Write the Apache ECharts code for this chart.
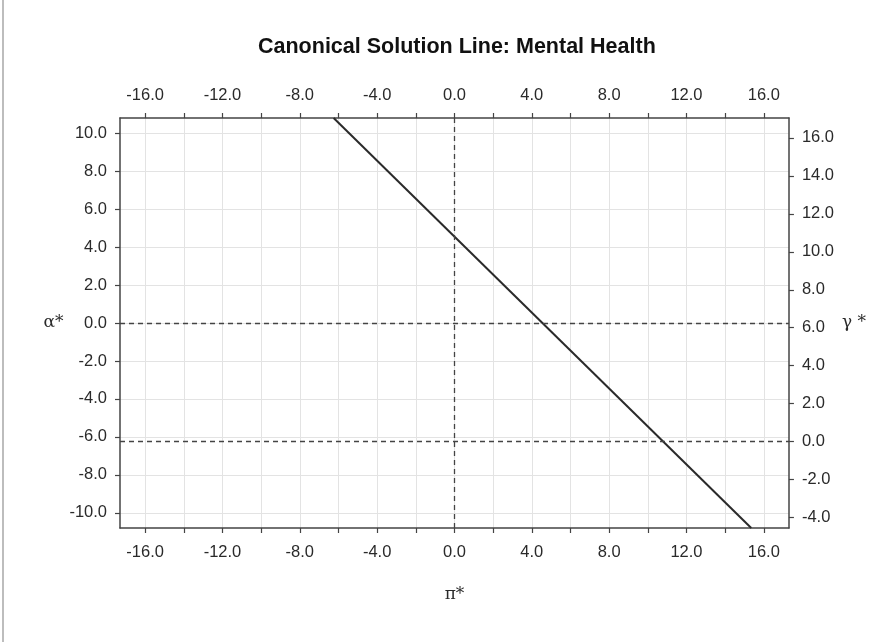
<!DOCTYPE html>
<html>
<head>
<meta charset="utf-8">
<script src="https://cdn.jsdelivr.net/npm/echarts@6/dist/echarts.min.js"></script>
<style>
html,body{margin:0;padding:0;background:#fff;overflow:hidden;}
#chart{width:869px;height:642px;}
</style>
</head>
<body>
<div id="chart"></div>
<script>
// Data
var piLine = [-6.25, 15.35];        // π* at the two ends of the solution line
var alphaLine = [10.8, -10.8];      // α* at the two ends
var xTicks = [-16,-14,-12,-10,-8,-6,-4,-2,0,2,4,6,8,10,12,14,16];
var xLabels = [-16,-12,-8,-4,0,4,8,12,16];
var alphaTicks = [-10,-8,-6,-4,-2,0,2,4,6,8,10];
var gammaTicks = [-4,-2,0,2,4,6,8,10,12,14,16];
var gammaOffset = 6.25;             // γ* = α* + offset
var refPi = [0];                    // vertical dashed line
var refAlpha = [0, -gammaOffset];   // horizontal dashed lines (α*=0, γ*=0)

var xMin = -17.3, xMax = 17.3, yMin = -10.8, yMax = 10.8;
var axisColor = '#444', textColor = '#2a2a2a';
var fmt = function (v) { return Number(v).toFixed(1); };
var lblFont = { fontFamily: 'Liberation Sans, Arial, sans-serif', fontSize: 16.5, color: textColor };

function xAxisDef(pos) {
  return {
    type: 'value', position: pos, min: xMin, max: xMax,
    axisLine: { show: true, onZero: false, lineStyle: { color: axisColor, width: 1.5 } },
    axisTick: { show: true, inside: false, length: 5, customValues: xTicks, lineStyle: { color: axisColor, width: 1.2 } },
    axisLabel: Object.assign({ customValues: xLabels, formatter: fmt, margin: pos === 'top' ? 14 : 16, showMinLabel: true, showMaxLabel: true }, lblFont),
    splitLine: { show: pos === 'bottom', lineStyle: { color: '#e3e3e3', width: 1 } }
  };
}

var pts = piLine.map(function (p, i) { return [p, alphaLine[i]]; });

var markData = refPi.map(function (v) { return { xAxis: v }; })
  .concat(refAlpha.map(function (v) { return { yAxis: v }; }));

var option = {
  backgroundColor: '#fff',
  animation: false,
  title: {
    text: 'Canonical Solution Line: Mental Health',
    left: 253, top: 31,
    textStyle: { fontFamily: 'Liberation Sans, Arial, sans-serif', fontWeight: 'bold', fontSize: 21.5, color: '#111' }
  },
  grid: { left: 120, top: 118, width: 675, height: 410, containLabel: false },
  xAxis: [
    Object.assign(xAxisDef('bottom'), {
      name: 'π*', nameLocation: 'middle', nameGap: 58,
      nameTextStyle: { fontFamily: 'DejaVu Serif, serif', fontSize: 17, color: textColor }
    }),
    xAxisDef('top')
  ],
  yAxis: [
    {
      type: 'value', position: 'left', min: yMin, max: yMax,
      name: 'α*', nameLocation: 'middle', nameRotate: 0, nameGap: 49,
      nameTextStyle: { fontFamily: 'DejaVu Serif, serif', fontSize: 17, color: textColor, align: 'right' },
      axisLine: { show: true, onZero: false, lineStyle: { color: axisColor, width: 1.5 } },
      axisTick: { show: true, inside: false, length: 5, customValues: alphaTicks, lineStyle: { color: axisColor, width: 1.2 } },
      axisLabel: Object.assign({ customValues: alphaTicks, formatter: fmt, margin: 13 }, lblFont),
      splitLine: { show: true, lineStyle: { color: '#e3e3e3', width: 1 } }
    },
    {
      type: 'value', position: 'right', min: yMin + gammaOffset, max: yMax + gammaOffset,
      name: 'γ *', nameLocation: 'middle', nameRotate: 0, nameGap: 53,
      nameTextStyle: { fontFamily: 'DejaVu Serif, serif', fontSize: 17, color: textColor, align: 'left' },
      axisLine: { show: true, onZero: false, lineStyle: { color: axisColor, width: 1.5 } },
      axisTick: { show: true, inside: false, length: 5, customValues: gammaTicks, lineStyle: { color: axisColor, width: 1.2 } },
      axisLabel: Object.assign({ customValues: gammaTicks, formatter: fmt, margin: 13 }, lblFont),
      splitLine: { show: false }
    }
  ],
  series: [
    {
      type: 'line', xAxisIndex: 0, yAxisIndex: 0,
      data: pts, showSymbol: false, symbol: 'none',
      lineStyle: { color: '#2a2a2a', width: 2 },
      markLine: {
        silent: true, symbol: 'none', label: { show: false },
        lineStyle: { color: '#444', type: [5, 4], width: 1.3 },
        data: markData
      }
    }
  ],
  graphic: [
    { type: 'line', shape: { x1: 3, y1: 0, x2: 3, y2: 642 }, style: { stroke: '#bdbdbd', lineWidth: 2 } }
  ]
};

var chart = echarts.init(document.getElementById('chart'), null, { renderer: 'canvas' });
chart.setOption(option);
</script>
</body>
</html>
